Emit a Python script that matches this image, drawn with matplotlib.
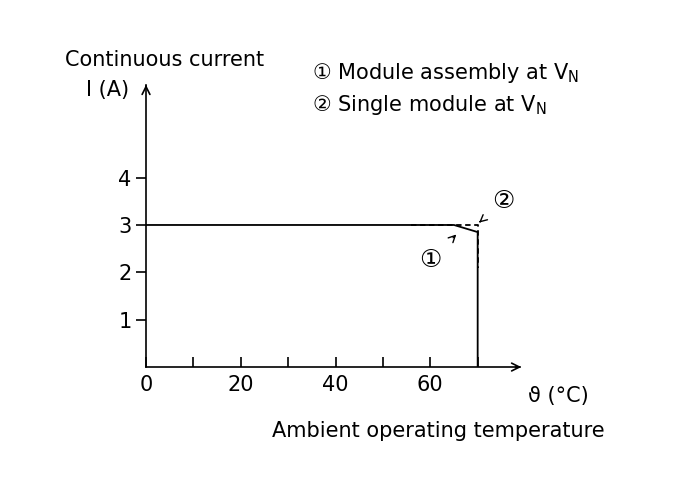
import matplotlib
matplotlib.use("Agg")
import matplotlib.pyplot as plt

x_ticks = [0, 20, 40, 60]
x_minor = [10, 30, 50, 70]
y_ticks = [1, 2, 3, 4]
curve1_x = [0, 65, 70, 70]
curve1_y = [3, 3, 2.85, 0]
curve2_x = [56, 70, 70]
curve2_y = [3, 3, 2.1]

plt.rcParams['font.family'] = ['DejaVu Sans']
fig = plt.figure(figsize=(6.97, 4.96), dpi=100)
ax = fig.add_axes([0.2095, 0.26, 0.537, 0.569])
ax.set_xlim(0, 79)
ax.set_ylim(0, 5.96)
for s in ['top', 'right']:
    ax.spines[s].set_visible(False)
for s in ['left', 'bottom']:
    ax.spines[s].set_linewidth(1.2)
ax.annotate("", xy=(1.01, 0), xytext=(0.98, 0), xycoords='axes fraction',
            arrowprops=dict(arrowstyle='->', color='k', lw=1.2, mutation_scale=14))
ax.annotate("", xy=(0, 1.01), xytext=(0, 0.98), xycoords='axes fraction',
            arrowprops=dict(arrowstyle='->', color='k', lw=1.2, mutation_scale=14))

ax.plot(curve1_x, curve1_y, color='k', lw=1.3)
ax.plot(curve2_x, curve2_y, color='k', lw=1.3, ls=(0, (3, 2)))

ax.set_xticks(x_ticks)
ax.set_xticks(x_minor, minor=True)
ax.set_yticks(y_ticks)
ax.tick_params(axis='both', which='both', direction='out', length=7, width=1.2, labelsize=15)
ax.tick_params(axis='x', which='both', direction='in', length=7)
ax.tick_params(axis='x', pad=6)

fig.text(165/697, 1-60/496, "Continuous current", ha='center', va='center', fontsize=15)
fig.text(108/697, 1-90/496, "I (A)", ha='center', va='center', fontsize=15)
fig.text(528/697, 1-396/496, "ϑ (°C)", ha='left', va='center', fontsize=15)
fig.text(438/697, 1-431/496, "Ambient operating temperature", ha='center', va='center', fontsize=15)
fig.text(312/697, 1-73/496, "① Module assembly at V$_\\mathregular{N}$", ha='left', va='center', fontsize=15)
fig.text(312/697, 1-105/496, "② Single module at V$_\\mathregular{N}$", ha='left', va='center', fontsize=15)

ax.annotate("②", xy=(70.3, 3.05), xytext=(75.5, 3.5), fontsize=18, ha='center', va='center',
            arrowprops=dict(arrowstyle='->', color='k', lw=1, shrinkA=9, shrinkB=0, mutation_scale=12))
ax.annotate("①", xy=(65.5, 2.8), xytext=(60, 2.25), fontsize=18, ha='center', va='center',
            arrowprops=dict(arrowstyle='->', color='k', lw=1, shrinkA=9, shrinkB=0, mutation_scale=12))

fig.savefig("out.png", dpi=100)
